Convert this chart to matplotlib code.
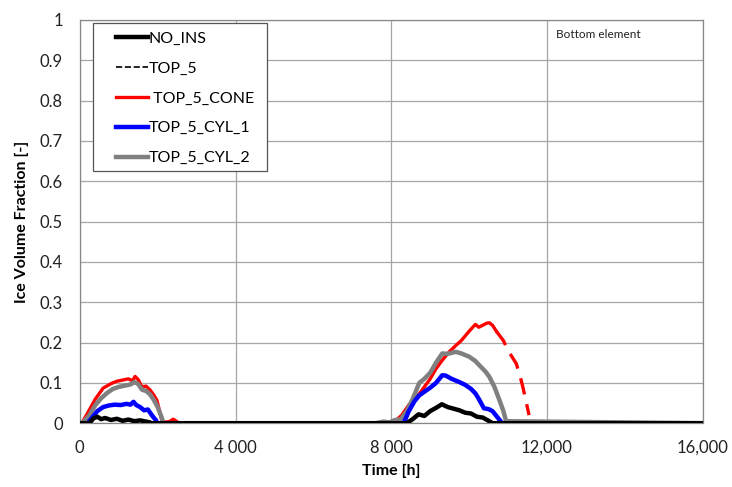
import matplotlib
matplotlib.use('Agg')
import matplotlib.pyplot as plt
from matplotlib.patches import Rectangle
import numpy as np

plt.rcParams['font.family'] = ['Lato', 'DejaVu Sans']

# time [h] and ice volume fraction
t_no_ins = [0, 250, 350, 450, 550, 650, 800, 950, 1100, 1250, 1400, 1550, 1700, 1800, 1850,
            8400, 8550, 8700, 8850, 9000, 9150, 9300, 9450, 9600, 9750, 9900, 10050, 10200,
            10350, 10500, 10600, 16000]
v_no_ins = [0, 0, 0.012, 0.016, 0.010, 0.013, 0.008, 0.011, 0.006, 0.009, 0.005, 0.007, 0.004, 0.002, 0,
            0, 0.010, 0.022, 0.018, 0.030, 0.038, 0.047, 0.040, 0.036, 0.032, 0.026, 0.024, 0.016,
            0.014, 0.006, 0, 0]

t_top5 = t_no_ins
v_top5 = v_no_ins

t_cone = [0, 50, 200, 400, 600, 800, 950, 1100, 1250, 1350, 1420, 1500, 1600, 1700, 1800,
          1900, 1980, 2050, 2120, 2300, 2400, 2480, 2550,
          7900, 8100, 8270, 8450, 8600, 8720, 8850, 9000, 9150, 9300, 9490, 9650, 9800, 10000,
          10160, 10250, 10350, 10450, 10520, 10600, 10700]
v_cone = [0, 0, 0.025, 0.060, 0.087, 0.098, 0.104, 0.107, 0.110, 0.105, 0.116, 0.108, 0.090, 0.092, 0.083,
          0.070, 0.057, 0.030, 0.002, 0.004, 0.010, 0.005, 0,
          0, 0.005, 0.020, 0.045, 0.060, 0.073, 0.090, 0.110, 0.135, 0.155, 0.177, 0.192, 0.205, 0.228,
          0.245, 0.238, 0.243, 0.248, 0.249, 0.243, 0.228]
t_cone_tail = [10700, 10800, 10880, 11000, 11100, 11210, 11300, 11380, 11460, 11540]
v_cone_tail = [0.228, 0.215, 0.205, 0.180, 0.165, 0.148, 0.120, 0.090, 0.055, 0.020]

t_cyl1 = [0, 200, 300, 450, 600, 750, 900, 1050, 1200, 1300, 1380, 1450, 1550, 1650, 1750,
          1850, 1950, 2000,
          8320, 8450, 8600, 8720, 8850, 9000, 9150, 9310, 9400, 9550, 9750, 9900, 10050, 10160,
          10250, 10380, 10500, 10600, 10700, 10850, 16000]
v_cyl1 = [0, 0, 0.012, 0.030, 0.040, 0.044, 0.046, 0.045, 0.048, 0.046, 0.053, 0.045, 0.040, 0.032, 0.034,
          0.020, 0.008, 0,
          0, 0.030, 0.055, 0.069, 0.078, 0.088, 0.100, 0.119, 0.118, 0.110, 0.102, 0.095, 0.085, 0.074,
          0.060, 0.037, 0.035, 0.030, 0.018, 0, 0]

t_cyl2 = [0, 100, 250, 400, 550, 700, 850, 1000, 1150, 1300, 1400, 1500, 1600, 1700, 1800,
          1900, 2000, 2100, 2150,
          7600, 7800, 7950, 8100, 8250, 8400, 8550, 8720, 8850, 9000, 9150, 9310, 9450, 9660, 9800,
          10000, 10150, 10300, 10420, 10520, 10650, 10780, 10880, 10950, 16000]
v_cyl2 = [0, 0.004, 0.020, 0.045, 0.062, 0.075, 0.085, 0.090, 0.093, 0.096, 0.102, 0.097, 0.083, 0.080, 0.072,
          0.058, 0.040, 0.015, 0,
          0, 0.004, 0.002, 0.008, 0.010, 0.030, 0.060, 0.100, 0.110, 0.125, 0.150, 0.173, 0.172, 0.177, 0.173,
          0.165, 0.155, 0.140, 0.128, 0.115, 0.090, 0.057, 0.030, 0.005, 0]

x_ticks = [0, 4000, 8000, 12000, 16000]
x_ticklabels = ['0', '4 000', '8 000', '12,000', '16,000']
y_ticks = [0, 0.1, 0.2, 0.3, 0.4, 0.5, 0.6, 0.7, 0.8, 0.9, 1]
y_ticklabels = ['0', '0.1', '0.2', '0.3', '0.4', '0.5', '0.6', '0.7', '0.8', '0.9', '1']

fig = plt.figure(figsize=(7.32, 4.87), dpi=100)
ax = fig.add_axes([0.109, 0.131, 0.851, 0.828])

ax.plot(t_cyl2, v_cyl2, color='#808080', lw=3.2, label='TOP_5_CYL_2', zorder=3)
ax.plot(t_cone, v_cone, color='#ff0000', lw=2.4, label=' TOP_5_CONE', zorder=2)
ax.plot(t_cone_tail, v_cone_tail, color='#ff0000', lw=2.4, dashes=(5, 3), zorder=2)
ax.plot(t_cyl1, v_cyl1, color='#0000ff', lw=3.2, label='TOP_5_CYL_1', zorder=4)
ax.plot(t_top5, v_top5, color='black', lw=1.2, ls='--', label='TOP_5', zorder=5)
ax.plot(t_no_ins, v_no_ins, color='black', lw=3.2, label='NO_INS', zorder=5)

ax.set_xlim(0, 16000)
ax.set_ylim(0, 1)
ax.set_xticks(x_ticks)
ax.set_xticklabels(x_ticklabels)
ax.set_yticks(y_ticks)
ax.set_yticklabels(y_ticklabels)
ax.tick_params(length=0, labelsize=12, colors='#222222')
ax.tick_params(axis='x', pad=12)
ax.tick_params(axis='y', pad=12)
ax.grid(True, color='#a6a6a6', lw=0.9)
ax.set_axisbelow(True)
for sp in ax.spines.values():
    sp.set_color('#888888')
    sp.set_linewidth(0.9)

ax.set_xlabel('Time [h]', fontsize=11.5, fontweight='bold', labelpad=6)
ax.set_ylabel('Ice Volume Fraction [-]', fontsize=11.5, fontweight='bold', labelpad=8)

ax.text(0.765, 0.955, 'Bottom element', transform=ax.transAxes, fontsize=8.5, color='#222222')

# legend box (wider horizontal padding than matplotlib's frame allows)
ax.add_patch(Rectangle((0.021, 0.625), 0.279, 0.368, transform=ax.transAxes,
                       facecolor='white', edgecolor='#555555', lw=0.9, zorder=6))

handles, labels = ax.get_legend_handles_labels()
order = ['NO_INS', 'TOP_5', ' TOP_5_CONE', 'TOP_5_CYL_1', 'TOP_5_CYL_2']
hd = dict(zip(labels, handles))
leg = ax.legend([hd[k] for k in order], order, loc='upper left', bbox_to_anchor=(0.058, 0.971),
                fontsize=11.5, frameon=False, handlelength=2.0, handletextpad=0.05,
                labelspacing=0.98, borderpad=0, borderaxespad=0)
leg.set_zorder(7)

fig.savefig('out.png', dpi=100)
